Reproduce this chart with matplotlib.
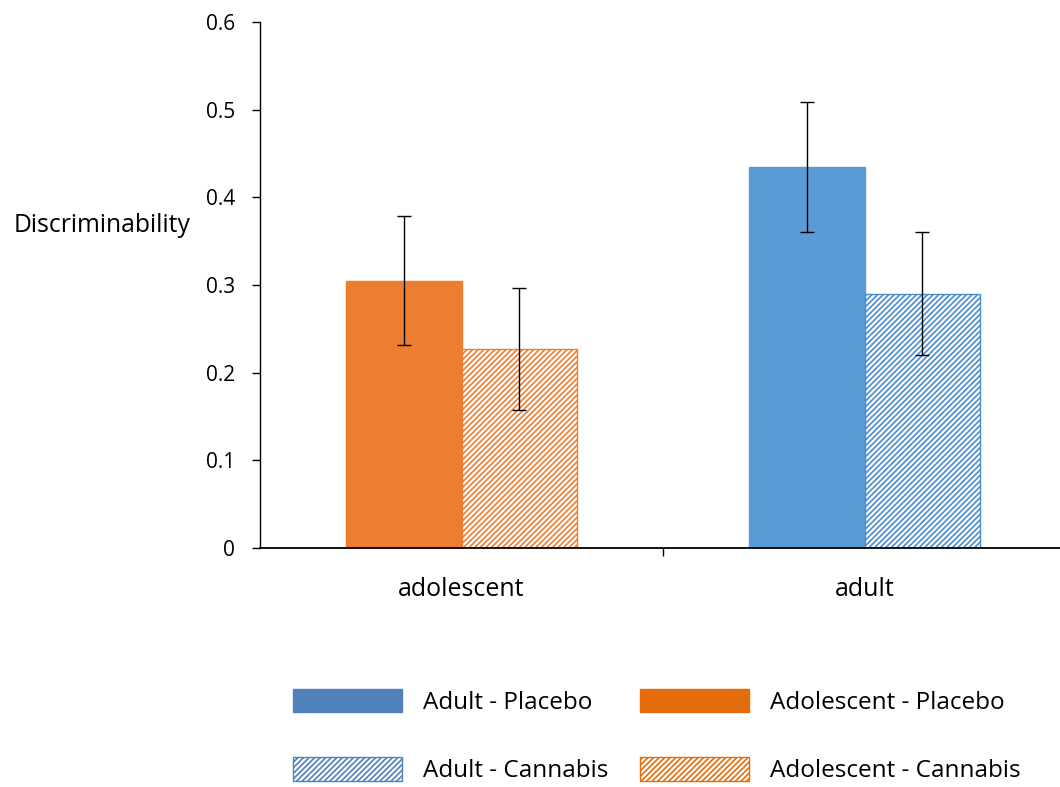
import matplotlib
matplotlib.use("Agg")
import matplotlib.pyplot as plt
import matplotlib.patches as mpatches
import numpy as np

plt.rcParams['font.family'] = ['Open Sans', 'DejaVu Sans']
plt.rcParams['hatch.linewidth'] = 1.2

categories = ["adolescent", "adult"]
placebo = [0.305, 0.435]
cannabis = [0.227, 0.290]
placebo_err = [0.074, 0.074]
cannabis_err = [0.070, 0.070]
yticks = [0, 0.1, 0.2, 0.3, 0.4, 0.5, 0.6]
ytick_labels = ["0", "0.1", "0.2", "0.3", "0.4", "0.5", "0.6"]

bar_orange = "#ED7D31"
bar_blue = "#5B9BD5"
leg_orange = "#E46C0A"
leg_blue = "#4F81BD"
placebo_colors = [bar_orange, bar_blue]
cannabis_colors = [bar_orange, "#4A8BD0"]

fig = plt.figure(figsize=(10.6, 7.87), dpi=100)
ax = fig.add_axes([260/1060, 1-548/787, 1-260/1060, (548-22)/787])

x = np.arange(len(categories))
w = 0.287
for i in range(len(categories)):
    ax.bar(x[i] - w/2, placebo[i], w, color=placebo_colors[i],
           edgecolor=placebo_colors[i], linewidth=1.0, zorder=2)
    ax.bar(x[i] + w/2, cannabis[i], w, color="white",
           edgecolor=cannabis_colors[i], hatch="//////", linewidth=1.0, zorder=2)
ax.errorbar(x - w/2, placebo, yerr=placebo_err, fmt="none", ecolor="black",
            elinewidth=1.0, capsize=5, capthick=1.0, zorder=3)
ax.errorbar(x + w/2, cannabis, yerr=cannabis_err, fmt="none", ecolor="black",
            elinewidth=1.0, capsize=5, capthick=1.0, zorder=3)

ax.set_xlim(-0.5, 1.485)
ax.set_ylim(0, 0.6)
ax.set_yticks(yticks)
ax.set_yticklabels(ytick_labels, fontsize=15)
ax.set_xticks([0.5])
ax.set_xticklabels([""])
ax.set_xticks(x, minor=True)
ax.set_xticklabels(categories, minor=True, fontsize=18)
ax.tick_params(axis="x", which="major", length=6, width=1, direction="out")
ax.tick_params(axis="x", which="minor", length=0, pad=21)
ax.tick_params(axis="y", length=6, width=1, direction="out", pad=12)
for s in ["top", "right"]:
    ax.spines[s].set_visible(False)
ax.spines["left"].set_linewidth(1.0)
ax.spines["bottom"].set_linewidth(1.3)

fig.text(14/1060, 1-225/787, "Discriminability", fontsize=17.8, va="center", ha="left")

h1 = mpatches.Patch(facecolor=leg_blue, edgecolor=leg_blue, label="Adult - Placebo")
h2 = mpatches.Patch(facecolor="white", edgecolor=leg_blue, hatch="//////", label="Adult - Cannabis")
h3 = mpatches.Patch(facecolor=leg_orange, edgecolor=leg_orange, label="Adolescent - Placebo")
h4 = mpatches.Patch(facecolor="white", edgecolor=leg_orange, hatch="//////", label="Adolescent - Cannabis")
fig.legend(handles=[h1, h2, h3, h4], ncol=2, frameon=False, fontsize=17.5,
           loc="center left", bbox_to_anchor=(293/1060, 1-736/787),
           handlelength=4.5, handleheight=1.1, labelspacing=1.75,
           columnspacing=1.3, handletextpad=0.85, borderpad=0.0,
           borderaxespad=0.0)

fig.savefig("out.png", dpi=100)
